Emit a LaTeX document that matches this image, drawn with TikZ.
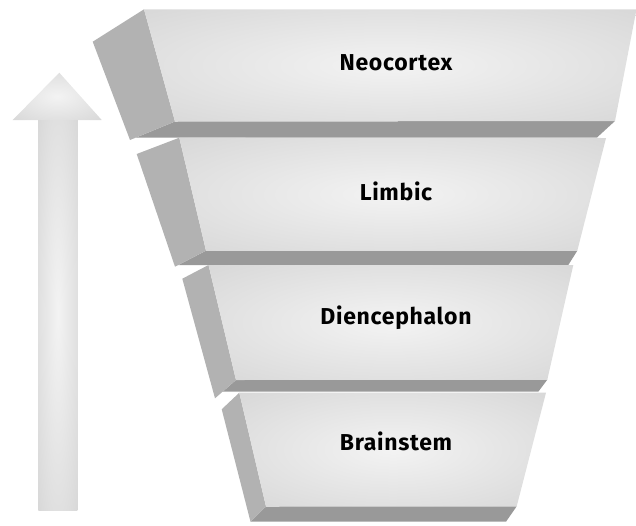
\documentclass[tikz,border=0pt]{standalone}
\usepackage{fontspec}
\newfontfamily\labfont{Fira Sans}[LetterSpace=3]
\definecolor{facec}{HTML}{F3F3F3}
\definecolor{faceb}{HTML}{CDCDCD}
\definecolor{facee}{HTML}{C2C2C2}
\definecolor{sidegrey}{HTML}{B2B2B2}
\definecolor{botgrey}{HTML}{999999}
\pgfdeclareradialshading{faceshade}{\pgfpointorigin}{color(0bp)=(facec); color(50bp)=(faceb); color(72bp)=(facee)}
\tikzset{
  frontface/.style={shading=faceshade, draw=none},
  sideface/.style={fill=sidegrey, draw=none},
  bottomface/.style={fill=botgrey, draw=none},
  arrowpart/.style={shading=faceshade, draw=none},
  lab/.style={font=\labfont\bfseries\fontsize{23}{25}\selectfont, text height=16pt, text depth=0pt, inner sep=0pt, anchor=center}
}
\begin{document}
\begin{tikzpicture}[x=1pt,y=-1pt]
\useasboundingbox (0,0) rectangle (636,525);
% arrow
\path[arrowpart] (38.3,119) rectangle (77.3,510);
\path[arrowpart] (12.7,120) -- (101.7,120) -- (59.3,72.7) -- cycle;
% Neocortex
\path[bottomface] (175,121.5) -- (615,121) -- (597,137.5) -- (136.1,137.5) -- cycle;
\path[sideface] (144,9.3) -- (92.7,41.7) -- (130,140) -- (175,121.5) -- cycle;
\path[frontface] (144,9.3) -- (636.5,9.3) -- (615,121) -- (175,121.5) -- cycle;
\node[lab] (neo) at (396,62.5) {Neocortex};
% Limbic
\path[bottomface] (206,250.7) -- (577.3,250.7) -- (568.3,265) -- (178.3,265) -- cycle;
\path[sideface] (179.3,137.7) -- (136.7,154) -- (175,266.7) -- (206,250.7) -- cycle;
\path[frontface] (179.3,137.7) -- (606,138) -- (577.3,250.7) -- (206,250.7) -- cycle;
\node[lab] (lim) at (396,192.7) {Limbic};
% Diencephalon
\path[bottomface] (236,380) -- (547.3,379.7) -- (538.3,391.7) -- (222.6,391.7) -- cycle;
\path[sideface] (208.5,265) -- (182.3,278.7) -- (215,398.3) -- (236,380) -- cycle;
\path[frontface] (208.5,265) -- (573.3,265) -- (547.3,379.7) -- (236,380) -- cycle;
\node[lab] (die) at (396,316.7) {Diencephalon};
% Brainstem
\path[bottomface] (266,506.5) -- (516.7,506.3) -- (506,521.7) -- (250.5,521.7) -- cycle;
\path[sideface] (239.3,392.7) -- (221.7,409.3) -- (250.5,521.7) -- (266,506.5) -- cycle;
\path[frontface] (239.3,392.7) -- (546,392.7) -- (516.7,506.3) -- (266,506.5) -- cycle;
\node[lab] (bra) at (396,442.7) {Brainstem};
\end{tikzpicture}
\end{document}
